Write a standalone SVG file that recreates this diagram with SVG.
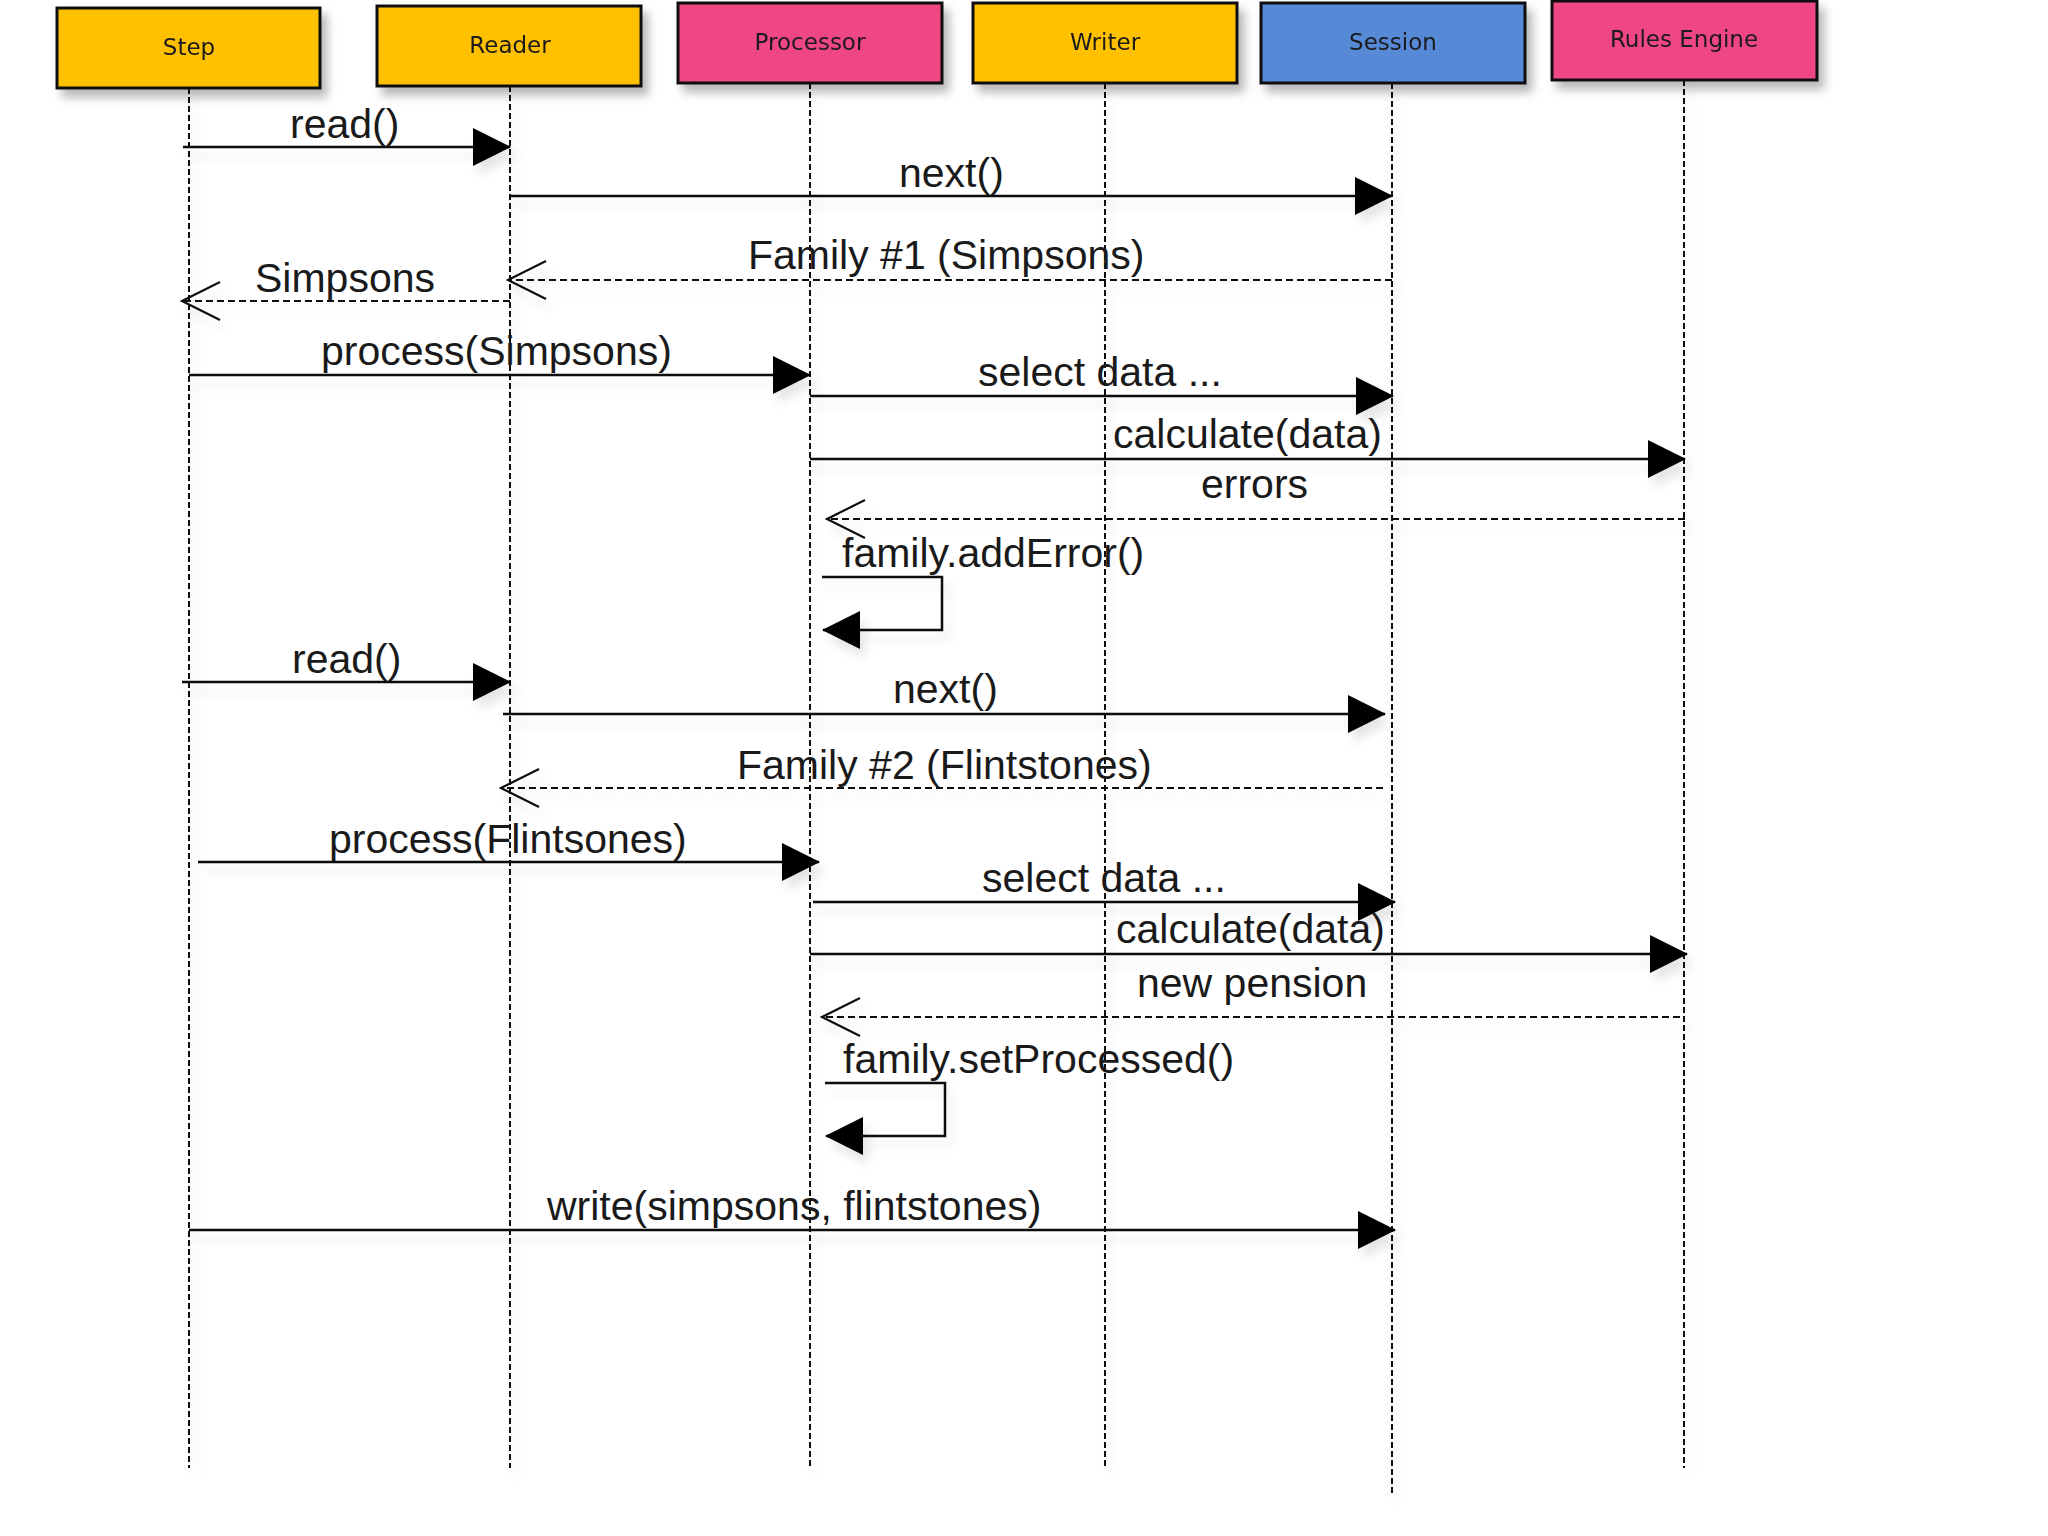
<svg xmlns="http://www.w3.org/2000/svg" width="2048" height="1536" viewBox="0 0 2048 1536">
<defs>
<style>
.box{stroke:#111;stroke-width:3}
.yellow{fill:#FFC000}
.pink{fill:#EE4683}
.blue{fill:#5789D6}
.hdr{font-family:"DejaVu Sans","Liberation Sans",sans-serif;font-size:23px;fill:#1a1a1a;text-anchor:middle}
.life{stroke:#111;stroke-width:2;stroke-dasharray:6 3;fill:none}
.msg{stroke:#111;stroke-width:2.5;fill:none}
.ret{stroke:#111;stroke-width:2.2;stroke-dasharray:7 4;fill:none}
.lbl{font-family:"Liberation Sans",Arial,sans-serif;font-size:41px;fill:#1a1a1a}
</style>
<filter id="sh" filterUnits="userSpaceOnUse" x="0" y="0" width="2048" height="1536">
<feDropShadow dx="6" dy="8" stdDeviation="5" flood-color="#000" flood-opacity="0.28"/>
</filter>
<filter id="lsh" filterUnits="userSpaceOnUse" x="0" y="0" width="2048" height="1536">
<feDropShadow dx="5" dy="9" stdDeviation="5" flood-color="#000" flood-opacity="0.10"/>
</filter>
<marker id="fill" viewBox="0 0 38 38" refX="37" refY="19" markerWidth="38" markerHeight="38" markerUnits="userSpaceOnUse" orient="auto">
<path d="M0,0 L38,19 L0,38 Z" fill="#000"/>
</marker>
<marker id="open" viewBox="-2 -2 42 42" refX="37" refY="19" markerWidth="42" markerHeight="42" markerUnits="userSpaceOnUse" orient="auto">
<path d="M0,0 L38,19 L0,38" fill="none" stroke="#111" stroke-width="2.2"/>
</marker>
</defs>
<rect width="2048" height="1536" fill="#fff"/>

<g id="lifelines" filter="url(#lsh)">
<line class="life" x1="189" y1="88" x2="189" y2="1468"/>
<line class="life" x1="510" y1="86" x2="510" y2="1468"/>
<line class="life" x1="810" y1="83" x2="810" y2="1468"/>
<line class="life" x1="1105" y1="83" x2="1105" y2="1468"/>
<line class="life" x1="1392" y1="83" x2="1392" y2="1495"/>
<line class="life" x1="1684" y1="80" x2="1684" y2="1468"/>
</g>

<g id="node-step" filter="url(#sh)">
<rect class="box yellow" x="57" y="8" width="263" height="80"/>
<text class="hdr" x="189" y="55">Step</text>
</g>
<g id="node-reader" filter="url(#sh)">
<rect class="box yellow" x="377" y="6" width="264" height="80"/>
<text class="hdr" x="510" y="53">Reader</text>
</g>
<g id="node-processor" filter="url(#sh)">
<rect class="box pink" x="678" y="3" width="264" height="80"/>
<text class="hdr" x="810" y="50">Processor</text>
</g>
<g id="node-writer" filter="url(#sh)">
<rect class="box yellow" x="973" y="3" width="264" height="80"/>
<text class="hdr" x="1105" y="50">Writer</text>
</g>
<g id="node-session" filter="url(#sh)">
<rect class="box blue" x="1261" y="3" width="264" height="80"/>
<text class="hdr" x="1393" y="50">Session</text>
</g>
<g id="node-rules" filter="url(#sh)">
<rect class="box pink" x="1552" y="1" width="265" height="79"/>
<text class="hdr" x="1684" y="47">Rules Engine</text>
</g>

<g id="connectors" filter="url(#lsh)">
<line class="msg" x1="183" y1="147" x2="510" y2="147" marker-end="url(#fill)"/>
<line class="msg" x1="510" y1="196" x2="1392" y2="196" marker-end="url(#fill)"/>
<line class="ret" x1="1392" y1="280" x2="509" y2="280" marker-end="url(#open)"/>
<line class="ret" x1="510" y1="301" x2="183" y2="301" marker-end="url(#open)"/>
<line class="msg" x1="189" y1="375" x2="810" y2="375" marker-end="url(#fill)"/>
<line class="msg" x1="810" y1="396" x2="1393" y2="396" marker-end="url(#fill)"/>
<line class="msg" x1="810" y1="459" x2="1685" y2="459" marker-end="url(#fill)"/>
<line class="ret" x1="1685" y1="519" x2="828" y2="519" marker-end="url(#open)"/>
<path class="msg" d="M822,577 H942 V630 H823" marker-end="url(#fill)"/>
<line class="msg" x1="182" y1="682" x2="510" y2="682" marker-end="url(#fill)"/>
<line class="msg" x1="503" y1="714" x2="1385" y2="714" marker-end="url(#fill)"/>
<line class="ret" x1="1383" y1="788" x2="502" y2="788" marker-end="url(#open)"/>
<line class="msg" x1="198" y1="862" x2="819" y2="862" marker-end="url(#fill)"/>
<line class="msg" x1="813" y1="902" x2="1395" y2="902" marker-end="url(#fill)"/>
<line class="msg" x1="810" y1="954" x2="1687" y2="954" marker-end="url(#fill)"/>
<line class="ret" x1="1680" y1="1017" x2="823" y2="1017" marker-end="url(#open)"/>
<path class="msg" d="M825,1083 H945 V1136 H826" marker-end="url(#fill)"/>
<line class="msg" x1="189" y1="1230" x2="1395" y2="1230" marker-end="url(#fill)"/>
</g>

<g id="labels">
<text class="lbl" x="290" y="138">read()</text>
<text class="lbl" x="899" y="187">next()</text>
<text class="lbl" x="748" y="269">Family #1 (Simpsons)</text>
<text class="lbl" x="255" y="292">Simpsons</text>
<text class="lbl" x="321" y="365">process(Simpsons)</text>
<text class="lbl" x="978" y="386">select data ...</text>
<text class="lbl" x="1113" y="448">calculate(data)</text>
<text class="lbl" x="1201" y="498">errors</text>
<text class="lbl" x="842" y="567">family.addError()</text>
<text class="lbl" x="292" y="673">read()</text>
<text class="lbl" x="893" y="703">next()</text>
<text class="lbl" x="737" y="779">Family #2 (Flintstones)</text>
<text class="lbl" x="329" y="853">process(Flintsones)</text>
<text class="lbl" x="982" y="892">select data ...</text>
<text class="lbl" x="1116" y="943">calculate(data)</text>
<text class="lbl" x="1137" y="997">new pension</text>
<text class="lbl" x="843" y="1073">family.setProcessed()</text>
<text class="lbl" x="547" y="1220">write(simpsons, flintstones)</text>
</g>
</svg>
